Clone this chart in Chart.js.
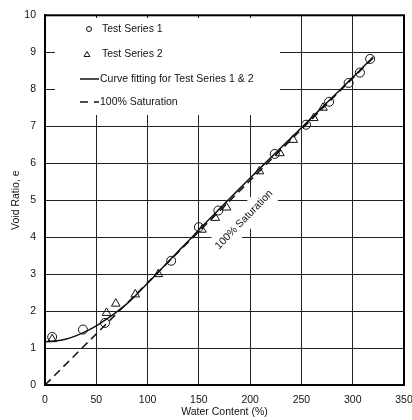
<!DOCTYPE html>
<html lang="en">
<head>
  <meta charset="UTF-8">
  <title>Void Ratio vs Water Content</title>
  <script src="https://cdn.jsdelivr.net/npm/chart.js"></script>
  <style>
    html, body { margin: 0; padding: 0; background: #fff; }
    #wrap { width: 412px; height: 420px; }
  </style>
</head>
<body>
  <div id="wrap"><canvas id="chart" width="412" height="420"></canvas></div>

  <script>
    // Test Series 1 (circles)
    const series1W = [7, 37, 58.5, 123, 150, 169, 224, 254.5, 277, 296, 307, 317];
    const series1E = [1.3, 1.5, 1.68, 3.36, 4.27, 4.72, 6.25, 7.04, 7.66, 8.17, 8.45, 8.82];

    // Test Series 2 (triangles)
    const series2W = [7, 60, 69, 88, 110.5, 153, 166, 177, 209, 229, 242, 262, 271];
    const series2E = [1.24, 1.95, 2.2, 2.45, 3.0, 4.2, 4.52, 4.8, 5.78, 6.27, 6.63, 7.22, 7.5];

    // curve fitting for series 1 & 2
    const curveW = [0, 10, 20, 30, 40, 50, 60, 70, 80, 90, 100, 110, 120, 130, 140, 150, 175, 200, 225, 250, 275, 300, 320];
    const curveE = [1.17, 1.19, 1.24, 1.33, 1.45, 1.6, 1.78, 1.98, 2.2, 2.47, 2.75, 3.04, 3.33, 3.62, 3.9, 4.2, 4.9, 5.6, 6.28, 6.96, 7.64, 8.32, 8.88];

    // 100% saturation line
    const satW = [0, 320];
    const satE = [0, 8.85];

    const xTicks = [0, 50, 100, 150, 200, 250, 300, 350];
    const yTicks = [0, 1, 2, 3, 4, 5, 6, 7, 8, 9, 10];

    const legendLabels = ['Test Series 1', 'Test Series 2', 'Curve fitting for Test Series 1 & 2', '100% Saturation'];
    const satLabel = '100% Saturation';

    const FONT = 'Liberation Sans, Arial, sans-serif';
    const INK = '#111';

    const toPts = (xs, ys) => xs.map((x, i) => ({ x: x, y: ys[i] }));

    // white legend box + entries, and the rotated label on the saturation line
    const overlayPlugin = {
      id: 'overlay',
      beforeDatasetsDraw(chart) {
        const ctx = chart.ctx;
        const a = chart.chartArea;
        const xs = chart.scales.x, ys = chart.scales.y;

        ctx.save();
        // legend box
        ctx.fillStyle = '#fff';
        ctx.fillRect(55, 18, 225, 97);

        ctx.font = '10.5px ' + FONT;
        ctx.fillStyle = INK;
        ctx.textBaseline = 'middle';
        ctx.textAlign = 'left';
        ctx.strokeStyle = INK;

        // circle
        ctx.lineWidth = 1;
        ctx.beginPath();
        ctx.arc(89, 29, 2.5, 0, Math.PI * 2);
        ctx.stroke();
        ctx.fillText(legendLabels[0], 102, 29.5);

        // triangle
        ctx.beginPath();
        ctx.moveTo(87, 51.5);
        ctx.lineTo(90, 56.5);
        ctx.lineTo(84, 56.5);
        ctx.closePath();
        ctx.stroke();
        ctx.fillText(legendLabels[1], 102, 54.5);

        // solid line
        ctx.lineWidth = 1.5;
        ctx.beginPath();
        ctx.moveTo(80, 79);
        ctx.lineTo(99, 79);
        ctx.stroke();
        ctx.fillText(legendLabels[2], 100, 79);

        // dashed line
        ctx.beginPath();
        ctx.moveTo(80, 102);
        ctx.lineTo(88, 102);
        ctx.moveTo(94, 102);
        ctx.lineTo(99, 102);
        ctx.stroke();
        ctx.fillText(legendLabels[3], 100, 102);

        // saturation label
        const cx = xs.getPixelForValue(194);
        const cy = ys.getPixelForValue(4.47);
        ctx.translate(cx, cy);
        ctx.rotate(-46 * Math.PI / 180);
        ctx.fillStyle = '#fff';
        ctx.fillRect(-44, -11, 88, 22);
        ctx.fillStyle = INK;
        ctx.textAlign = 'center';
        ctx.fillText(satLabel, 0, 0);
        ctx.restore();

        // plot frame
        ctx.save();
        ctx.strokeStyle = '#000';
        ctx.lineWidth = 2;
        ctx.strokeRect(a.left, a.top, a.right - a.left, a.bottom - a.top);
        ctx.restore();
      }
    };

    new Chart(document.getElementById('chart').getContext('2d'), {
      type: 'scatter',
      data: {
        datasets: [
          {
            label: legendLabels[0],
            data: toPts(series1W, series1E),
            pointStyle: 'circle',
            pointRadius: 4.5,
            borderColor: INK,
            backgroundColor: 'rgba(0,0,0,0)',
            pointBorderWidth: 1,
            showLine: false
          },
          {
            label: legendLabels[1],
            data: toPts(series2W, series2E),
            pointStyle: 'triangle',
            pointRadius: 5,
            borderColor: INK,
            backgroundColor: 'rgba(0,0,0,0)',
            pointBorderWidth: 1,
            showLine: false
          },
          {
            label: legendLabels[2],
            data: toPts(curveW, curveE),
            showLine: true,
            pointRadius: 0,
            borderColor: INK,
            borderWidth: 1.5,
            tension: 0.3,
            fill: false
          },
          {
            label: legendLabels[3],
            data: toPts(satW, satE),
            showLine: true,
            pointRadius: 0,
            borderColor: INK,
            borderWidth: 1.5,
            borderDash: [8, 5],
            fill: false
          }
        ]
      },
      options: {
        responsive: false,
        animation: false,
        layout: { padding: { left: 0, right: 0, top: 14, bottom: 0 } },
        plugins: {
          legend: { display: false },
          tooltip: { enabled: false }
        },
        scales: {
          x: {
            type: 'linear',
            min: 0,
            max: 350,
            afterFit: s => { s.height = 35; s.paddingLeft = 0; s.paddingRight = 8; },
            afterBuildTicks: s => { s.ticks = xTicks.map(v => ({ value: v })); },
            grid: { color: '#222', lineWidth: 1, drawTicks: false },
            border: { display: true, color: '#000', width: 2 },
            ticks: { color: INK, font: { family: FONT, size: 10.5 }, padding: 9, maxRotation: 0 },
            title: {
              display: true,
              text: 'Water Content (%)',
              color: INK,
              font: { family: FONT, size: 10.5 },
              padding: { top: 0, bottom: 2 }
            }
          },
          y: {
            type: 'linear',
            min: 0,
            max: 10,
            afterFit: s => { s.width = 45; },
            afterBuildTicks: s => { s.ticks = yTicks.map(v => ({ value: v })); },
            grid: { color: '#222', lineWidth: 1, drawTicks: false },
            border: { display: true, color: '#000', width: 2 },
            ticks: { color: INK, font: { family: FONT, size: 10.5 }, padding: 9 },
            title: {
              display: true,
              text: 'Void Ratio, e',
              color: INK,
              font: { family: FONT, size: 10.5 },
              padding: { top: 10, bottom: 0 }
            }
          }
        }
      },
      plugins: [overlayPlugin]
    });
  </script>
</body>
</html>
